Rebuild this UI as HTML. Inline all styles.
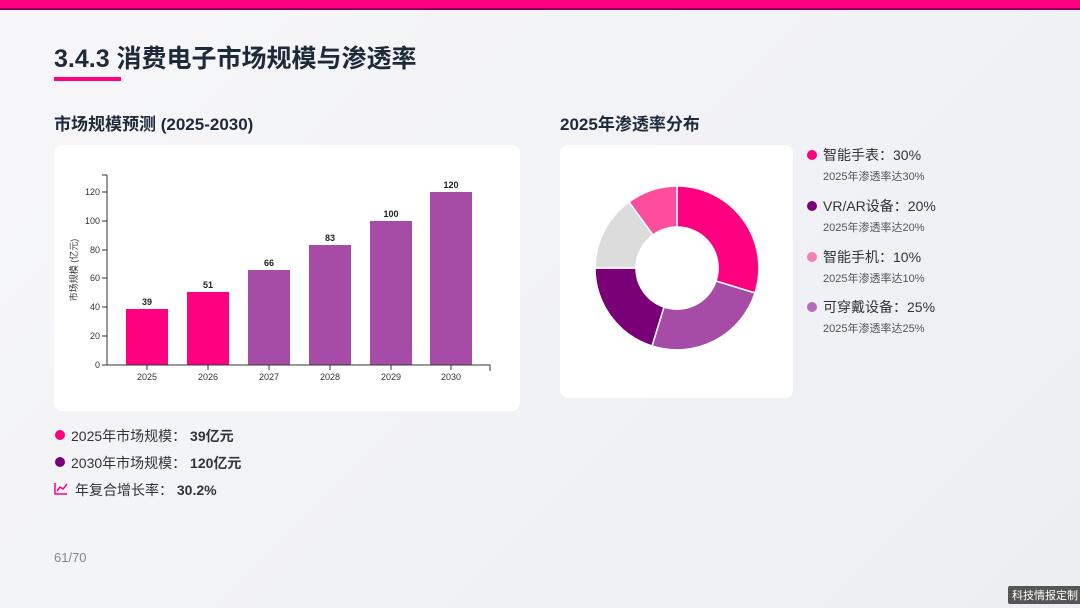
<!DOCTYPE html>
<html><head><meta charset="utf-8"><style>
body{margin:0;width:1080px;height:608px;overflow:hidden;font-family:"Liberation Sans","Noto Sans CJK SC",sans-serif;background:linear-gradient(135deg,#f7f7f9,#eceef2);position:relative}
.t{position:absolute;white-space:nowrap}
.l{position:absolute;left:823px;font-size:14px;color:#333;white-space:nowrap;line-height:1}
.s{position:absolute;left:823px;font-size:11px;color:#555;white-space:nowrap;line-height:1}
</style></head><body>
<div style="position:absolute;left:0;top:0;width:1080px;height:8px;background:#ff0080"></div>
<div style="position:absolute;left:0;top:8px;width:1080px;height:2px;background:#8a0060"></div>
<div class="t" style="left:54px;top:39px;font-size:25px;font-weight:bold;color:#1e2a3a">3.4.3 消费电子市场规模与渗透率</div>
<div style="position:absolute;left:54px;top:77px;width:67px;height:4px;background:#ff0080"></div>
<div class="t" style="left:54px;top:110px;font-size:17px;font-weight:bold;color:#1e2a3a">市场规模预测 (2025-2030)</div>
<div class="t" style="left:560px;top:110px;font-size:17px;font-weight:bold;color:#1e2a3a">2025年渗透率分布</div>
<div style="position:absolute;left:54px;top:145px;width:466px;height:266px;background:#fff;border-radius:8px"></div>
<div style="position:absolute;left:560px;top:145px;width:233px;height:253px;background:#fff;border-radius:8px"></div>
<svg style="position:absolute;left:0;top:0" width="1080" height="608" font-family="Liberation Sans,Noto Sans CJK SC,sans-serif">
<g fill="#ff0080"><rect x="126" y="309" width="42" height="56"/><rect x="187" y="292" width="42" height="73"/></g>
<g fill="#a64ca6"><rect x="248" y="270" width="42" height="95"/><rect x="309" y="245" width="42" height="120"/><rect x="370" y="221" width="42" height="144"/><rect x="430" y="192" width="42" height="173"/></g>
<g stroke="#333" stroke-width="1" fill="none"><path d="M107 175V365H490V371M102 175H107"/>
<path d="M102 365H107M102 336H107M102 307H107M102 278H107M102 250H107M102 221H107M102 192H107"/>
<path d="M147 365v5M208 365v5M269 365v5M330 365v5M391 365v5M451 365v5"/></g>
<g font-size="9" fill="#333" text-anchor="end"><text x="100" y="368">0</text><text x="100" y="339">20</text><text x="100" y="310">40</text><text x="100" y="281">60</text><text x="100" y="253">80</text><text x="100" y="224">100</text><text x="100" y="195">120</text></g>
<g font-size="9" fill="#333" text-anchor="middle"><text x="147" y="380">2025</text><text x="208" y="380">2026</text><text x="269" y="380">2027</text><text x="330" y="380">2028</text><text x="391" y="380">2029</text><text x="451" y="380">2030</text></g>
<g font-size="9" font-weight="bold" fill="#222" text-anchor="middle"><text x="147" y="305">39</text><text x="208" y="288">51</text><text x="269" y="266">66</text><text x="330" y="241">83</text><text x="391" y="217">100</text><text x="451" y="188">120</text></g>
<text transform="translate(77,270) rotate(-90)" font-size="9" fill="#333" text-anchor="middle">市场规模 (亿元)</text>
<g stroke="#fff" stroke-width="1.5">
<path d="M677 186A82 82 0 0 1 755 293L716 281A41 41 0 0 0 677 227Z" fill="#ff0080"/>
<path d="M755 293A82 82 0 0 1 652 346L664 307A41 41 0 0 0 716 281Z" fill="#a64ca6"/>
<path d="M652 346A82 82 0 0 1 595 268L636 268A41 41 0 0 0 664 307Z" fill="#7a0077"/>
<path d="M595 268A82 82 0 0 1 629 202L653 235A41 41 0 0 0 636 268Z" fill="#dcdcdc"/>
<path d="M629 202A82 82 0 0 1 677 186L677 227A41 41 0 0 0 653 235Z" fill="#ff4d9e"/>
</g>
<circle cx="812" cy="155" r="5" fill="#ff0080"/><circle cx="812" cy="206" r="5" fill="#7a0077"/><circle cx="812" cy="257" r="5" fill="#f77fb8"/><circle cx="812" cy="307" r="5" fill="#b86bb8"/>
<circle cx="60" cy="435" r="5" fill="#ff0080"/><circle cx="60" cy="462" r="5" fill="#7a0077"/>
<path d="M55 483V494H67M57 491l3-4 3 2 4-5" stroke="#ff0080" stroke-width="1.5" fill="none"/>
</svg>
<div class="l" style="top:148px">智能手表：30%</div><div class="s" style="top:172px">2025年渗透率达30%</div>
<div class="l" style="top:199px">VR/AR设备：20%</div><div class="s" style="top:223px">2025年渗透率达20%</div>
<div class="l" style="top:250px">智能手机：10%</div><div class="s" style="top:274px">2025年渗透率达10%</div>
<div class="l" style="top:300px">可穿戴设备：25%</div><div class="s" style="top:324px">2025年渗透率达25%</div>
<div class="t" style="left:71px;top:426px;font-size:14px;color:#333">2025年市场规模： <b>39亿元</b></div>
<div class="t" style="left:71px;top:453px;font-size:14px;color:#333">2030年市场规模： <b>120亿元</b></div>
<div class="t" style="left:75px;top:480px;font-size:14px;color:#333">年复合增长率： <b>30.2%</b></div>
<div class="t" style="left:54px;top:550px;font-size:13px;color:#888">61/70</div>
<div class="t" style="left:1008px;top:586px;font-size:11px;color:#fff;background:#555;padding:1px 4px;border-radius:2px">科技情报定制</div>
</body></html>
